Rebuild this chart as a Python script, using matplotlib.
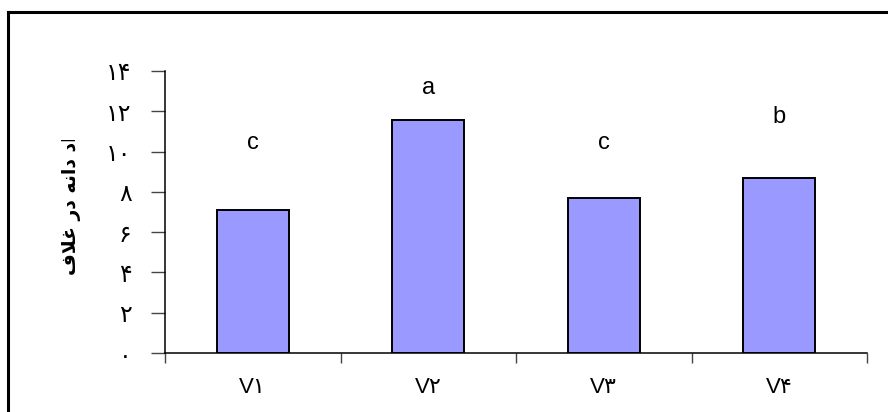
import matplotlib
matplotlib.use("Agg")
import matplotlib.pyplot as plt
from matplotlib.lines import Line2D
from matplotlib.transforms import Bbox

# =================================
# Data
# =================================
categories = ["V\u06f1", "V\u06f2", "V\u06f3", "V\u06f4"]
seeds_per_pod = [7.1, 11.55, 7.7, 8.7]
group_letters = ["c", "a", "c", "b"]
letter_heights = [10.45, 13.15, 10.45, 11.7]
y_ticks = [0, 2, 4, 6, 8, 10, 12, 14]
y_tick_labels = ["\u06f0", "\u06f2", "\u06f4", "\u06f6", "\u06f8",
                 "\u06f1\u06f0", "\u06f1\u06f2", "\u06f1\u06f4"]

# "تعداد دانه در غلاف" in presentation forms, logical order
# (matplotlib does no Arabic shaping, so do it by hand)
ylabel_logical = ["\ufe97", "\ufecc", "\ufeaa", "\ufe8d", "\ufea9", " ",
                  "\ufea9", "\ufe8d", "\ufee7", "\ufeea", " ",
                  "\ufea9", "\ufead", " ",
                  "\ufecf", "\ufefc", "\ufed1"]
ylabel_text = "".join(reversed(ylabel_logical))

W, H = 888, 412

# =================================
# Figure
# =================================
fig = plt.figure(figsize=(W / 100, H / 100), dpi=100)
ax = fig.add_axes([165 / W, 59 / H, 702 / W, 282 / H])

centers = [i + 0.5 for i in range(len(categories))]
ax.bar(centers, seeds_per_pod, width=0.41, color="#9999ff",
       edgecolor="black", linewidth=1.4, zorder=3)

for x, h, s in zip(centers, letter_heights, group_letters):
    ax.text(x, h, s, ha="center", va="center", fontsize=17,
            family=["Liberation Sans", "DejaVu Sans"])

ax.set_xlim(0, len(categories))
ax.set_ylim(0, 14)

# category boundaries get the ticks, labels sit in between
ax.set_xticks(range(len(categories) + 1))
ax.set_xticklabels([])
ax.set_xticks(centers, minor=True)
ax.set_xticklabels(categories, minor=True,
                   family=["Liberation Sans", "DejaVu Sans"], fontsize=16)
ax.tick_params(axis="x", which="major", direction="out", length=7,
               width=1, color="#444444")
ax.tick_params(axis="x", which="minor", length=0, pad=17)

ax.set_yticks(y_ticks)
ax.set_yticklabels(y_tick_labels, family=["DejaVu Sans"], fontsize=17)
ax.tick_params(axis="y", direction="out", length=10, width=1,
               color="#444444", pad=14)

for side in ["top", "right"]:
    ax.spines[side].set_visible(False)
for side in ["left", "bottom"]:
    ax.spines[side].set_color("black")
    ax.spines[side].set_linewidth(1.1)

# y label, cut off at the top like in the reference
lbl = fig.text(71 / W, (H - 275) / H, ylabel_text, rotation=90,
               ha="center", va="bottom", fontsize=13.5, fontweight="bold",
               family=["DejaVu Sans"])
lbl.set_clip_box(Bbox.from_extents(0, 0, W, H - 140))
lbl.set_clip_on(True)

# outer frame (top and left edges only are visible)
fig.add_artist(Line2D([8 / W, 1], [1 - 12 / H, 1 - 12 / H],
                      transform=fig.transFigure, color="black", lw=2.2))
fig.add_artist(Line2D([8 / W, 8 / W], [0, 1 - 12 / H],
                      transform=fig.transFigure, color="black", lw=2.2))

fig.savefig("out.png", dpi=100, facecolor="white")
